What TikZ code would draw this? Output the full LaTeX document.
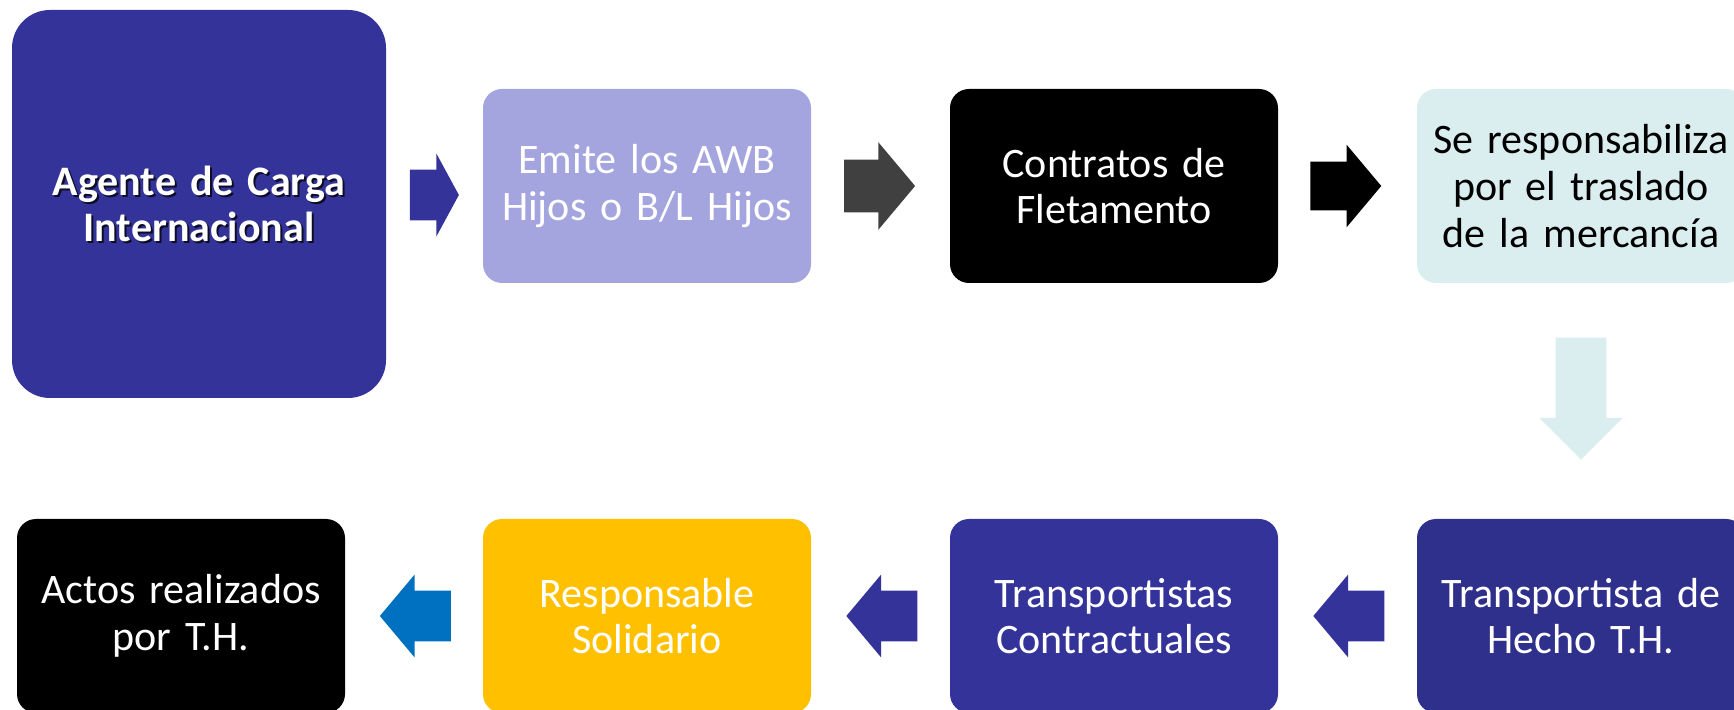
\documentclass[tikz,border=0pt]{standalone}
\usepackage{fontspec}
\setmainfont{Carlito}
\usepackage{tikz}
\usetikzlibrary{shapes.arrows}
\usetikzlibrary{calc}

\definecolor{indigo}{HTML}{333399}
\definecolor{deepindigo}{HTML}{2F2F8C}
\definecolor{lavender}{HTML}{A4A4DF}
\definecolor{paleteal}{HTML}{DAEEF0}
\definecolor{amber}{HTML}{FFC000}
\definecolor{steelblue}{HTML}{0070C0}
\definecolor{charcoal}{HTML}{404040}

\begin{document}
\begin{tikzpicture}
[x=0.5pt,y=-0.5pt
,bx/.style={rectangle,rounded corners=9.5pt,minimum width=164pt,minimum height=97pt,inner sep=0pt,text width=160pt,align=center,text=white,font=\fontsize{21}{23.3}\selectfont}
,big/.style={bx,rounded corners=19pt,minimum width=187pt,minimum height=194pt}
,ba/.style={single arrow,minimum height=35.5pt,single arrow head extend=8pt,single arrow tip angle=100,inner xsep=0pt,inner ysep=12.5pt,outer sep=0pt}
,br/.style={ba,xshift=-6pt}
,bl/.style={ba,shape border rotate=180,xshift=6pt}
,bd/.style={ba,shape border rotate=270,inner xsep=12.5pt,inner ysep=0pt,yshift=7.5pt}
]
\useasboundingbox (0,0) rectangle (1734,710);

\node[big,fill=indigo,path picture={\node[text width=160pt,align=center,text=indigo!25!black,font=\fontsize{21}{23.3}\selectfont\bfseries] at ([shift={(1pt,-1pt)}]path picture bounding box.center) {Agente de Carga\\Internacional};}] (n0) at (199,204) {\bfseries Agente de Carga\\Internacional};
\node[bx,fill=lavender] (n1) at (647,186) {Emite los AWB\\Hijos o B/L Hijos};
\node[bx,fill=black] (n2) at (1114,186) {Contratos de\\Fletamento};
\node[bx,fill=paleteal,text=black] (n3) at (1581,186) {Se responsabiliza\\por el traslado\\de la mercancía};
\node[bx,fill=deepindigo] (n4) at (1581,616) {Transportista de\\Hecho T.H.};
\node[bx,fill=indigo] (n5) at (1114,616) {Transportistas\\Contractuales};
\node[bx,fill=amber] (n6) at (647,616) {Responsable\\Solidario};
\node[bx,fill=black] (n7) at (181,616) {Actos realizados\\por T.H.};

\node[ba,fill=indigo,minimum height=24.5pt,single arrow tip angle=123,xshift=-3.5pt] (a01) at ($(n0.east)!0.5!(n1.west)$) {};
\node[br,fill=charcoal,inner ysep=13pt,single arrow head extend=8.75pt] (a12) at ($(n1.east)!0.5!(n2.west)$) {};
\node[br,fill=black,inner ysep=12pt,single arrow head extend=8.5pt] (a23) at ($(n2.east)!0.5!(n3.west)$) {};
\node[bd,fill=paleteal,minimum height=61pt,single arrow head extend=8.25pt,single arrow tip angle=90] (a34) at ($(n3.south)!0.5!(n4.north)$) {};
\node[bl,fill=indigo] (a45) at ($(n4.west)!0.5!(n5.east)$) {};
\node[bl,fill=indigo] (a56) at ($(n5.west)!0.5!(n6.east)$) {};
\node[bl,fill=steelblue] (a67) at ($(n6.west)!0.5!(n7.east)$) {};
\end{tikzpicture}
\end{document}
